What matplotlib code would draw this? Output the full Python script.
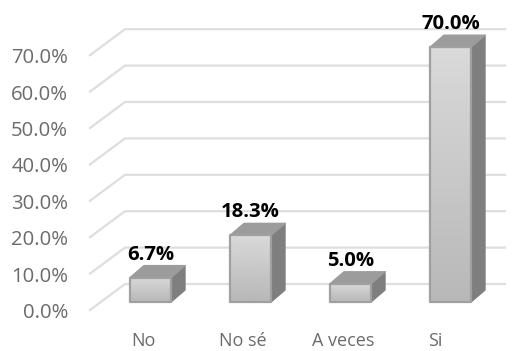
import numpy as np
import matplotlib
matplotlib.use("Agg")
import matplotlib.pyplot as plt
from matplotlib.patches import Polygon

categories = ["No", "No sé", "A veces", "Si"]
values = [6.7, 18.3, 5.0, 70.0]
yticks = [0, 10, 20, 30, 40, 50, 60, 70]

W, H = 522, 351
fig = plt.figure(figsize=(W/100, H/100), dpi=100)
ax = fig.add_axes([0, 0, 1, 1])
PX_X, PX_Y = 100.0, 3.64
ax.axis("off")

x_front, x_back, x_end = -0.605, -0.255, 3.545
y_front, y_back = -8/PX_Y, 18/PX_Y
grid_c = "#DEDEDE"
FONT = "Open Sans"
TXT = "#6B6B6B"
for t in yticks:
    ax.plot([x_front, x_back, x_end], [t+y_front, t+y_back, t+y_back], color=grid_c, lw=1.6, zorder=1, solid_joinstyle="round")
    ax.text(x_front-0.22, t+y_front-3/PX_Y, f"{t:.1f}%", ha="right", va="center", fontsize=14.6, family=FONT, color=TXT, zorder=5)

bw, dx, dy = 0.41, 0.14, 12/PX_Y
grad = np.linspace(0.72, 0.85, 64).reshape(-1, 1)
label_shift = [-0.07, -0.08, -0.07, -0.15]
for i, (c, v) in enumerate(zip(categories, values)):
    l, r = i-bw/2, i+bw/2
    ax.add_patch(Polygon([(r, 0), (r+dx, dy), (r+dx, v+dy), (r, v)], fc="#7F7F7F", ec="#808080", lw=1, joinstyle="round", zorder=3))
    ax.add_patch(Polygon([(l, v), (r, v), (r+dx, v+dy), (l+dx, v+dy)], fc="#9C9C9C", ec="#9C9C9C", lw=1, joinstyle="round", zorder=3))
    ax.imshow(grad, extent=[l, r, 0, v], origin="lower", cmap="gray", vmin=0, vmax=1, aspect="auto", zorder=3.5, interpolation="bilinear")
    ax.add_patch(Polygon([(l, 0), (r, 0), (r, v), (l, v)], fc="none", ec="#A0A0A0", lw=1.6, joinstyle="round", zorder=4))
    ax.text(i, v+dy+11/PX_Y, f"{v:.1f}%", ha="center", va="center", fontsize=14.6, fontweight="bold", family=FONT, color="black", zorder=6)
    ax.text(i+label_shift[i], -(340.5-302)/PX_Y, c, ha="center", va="center", fontsize=13, family=FONT, color=TXT, zorder=5)

ax.set_xlim(-150.5/PX_X, (W-150.5)/PX_X)
ax.set_ylim(-(H-302)/PX_Y, 302/PX_Y)
fig.savefig("out.png", dpi=100, facecolor="white")
